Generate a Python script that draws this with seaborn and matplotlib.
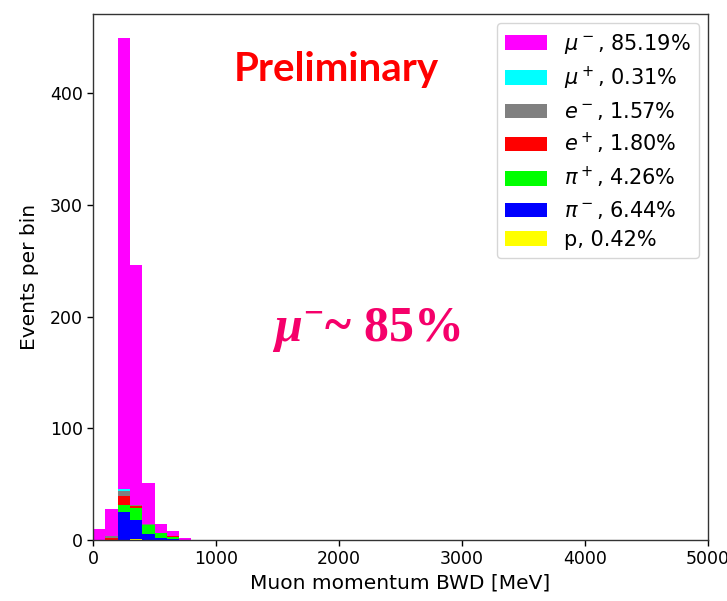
import numpy as np
import pandas as pd
import matplotlib
matplotlib.use("Agg")
import matplotlib.pyplot as plt
import seaborn as sns

# ---- data ----
bin_edges = list(range(0, 5001, 100))
bin_centers = [50, 150, 250, 350, 450, 550, 650, 750]
species = ["mu-", "mu+", "e-", "e+", "pi+", "pi-", "p"]
legend_labels = [r"$\mu^-$, 85.19%", r"$\mu^+$, 0.31%", r"$e^-$, 1.57%",
                 r"$e^+$, 1.80%", r"$\pi^+$, 4.26%", r"$\pi^-$, 6.44%", "p, 0.42%"]
colors = ["#FF00FF", "#00FFFF", "#808080", "#FF0000", "#00FF00", "#0000FF", "#FFFF00"]

counts_mu_minus = [10, 24, 403, 215, 37, 8, 4, 2]
counts_mu_plus  = [0, 0, 2, 0, 0, 0, 0, 0]
counts_e_minus  = [0, 2, 5, 1, 0.5, 0, 0, 0]
counts_e_plus   = [0, 2, 8, 1, 0.5, 0, 1, 0]
counts_pi_plus  = [0, 0, 6, 11, 8, 4, 2, 0]
counts_pi_minus = [0, 0, 25, 17, 5, 2, 1, 0]
counts_p        = [0, 0, 0, 1, 0, 0, 0, 0]

all_counts = [counts_mu_minus, counts_mu_plus, counts_e_minus, counts_e_plus,
              counts_pi_plus, counts_pi_minus, counts_p]

rows = []
for lab, cnts in zip(legend_labels, all_counts):
    for c, w in zip(bin_centers, cnts):
        rows.append({"momentum": c, "weight": w, "species": lab})
df = pd.DataFrame(rows)

sns.set_style("ticks")
plt.rcParams["font.family"] = ["DejaVu Sans"]
plt.rcParams["font.size"] = 12
plt.rcParams["text.color"] = "black"
plt.rcParams["axes.labelcolor"] = "black"
plt.rcParams["xtick.color"] = "black"
plt.rcParams["ytick.color"] = "black"
plt.rcParams["axes.edgecolor"] = "black"
plt.rcParams["mathtext.fontset"] = "dejavusans"
plt.rcParams["mathtext.rm"] = "Liberation Serif:bold"
plt.rcParams["mathtext.it"] = "Liberation Serif:bold:italic"
plt.rcParams["mathtext.bf"] = "Liberation Serif:bold"

fig = plt.figure(figsize=(7.27, 6.01), dpi=100)
ax = fig.add_axes([0.128, 0.1015, 0.846, 0.8755])

sns.histplot(data=df, x="momentum", weights="weight", hue="species",
             hue_order=legend_labels, palette=dict(zip(legend_labels, colors)),
             bins=bin_edges, multiple="stack", alpha=1, linewidth=0, ax=ax)

ax.set_xlim(0, 5000)
ax.set_ylim(0, 471)
ax.set_xticks([0, 1000, 2000, 3000, 4000, 5000])
ax.set_yticks([0, 100, 200, 300, 400])
ax.tick_params(labelsize=12.5, length=4, width=1, direction="out")
for s in ax.spines.values():
    s.set_visible(True)
    s.set_linewidth(1)
    s.set_color("#333333")
ax.set_xlabel("Muon momentum BWD [MeV]", fontsize=14.5)
ax.set_ylabel("Events per bin", fontsize=14.5, labelpad=8)

sns.move_legend(ax, "upper right", title=None, fontsize=15, frameon=True,
                borderaxespad=0.45, labelspacing=0.42)

ax.text(0.395, 0.895, "Preliminary", transform=ax.transAxes, color="#FF0000",
        fontsize=29, fontweight="bold", family=["Lato", "DejaVu Sans"],
        ha="center", va="center")
ax.text(0.444, 0.40, r"$\mu^{-}$~ 85%", transform=ax.transAxes, color="#F5006A",
        fontsize=36, fontweight="bold", family=["Liberation Serif"],
        math_fontfamily="custom", ha="center", va="center")

fig.savefig("out.png", dpi=100)
